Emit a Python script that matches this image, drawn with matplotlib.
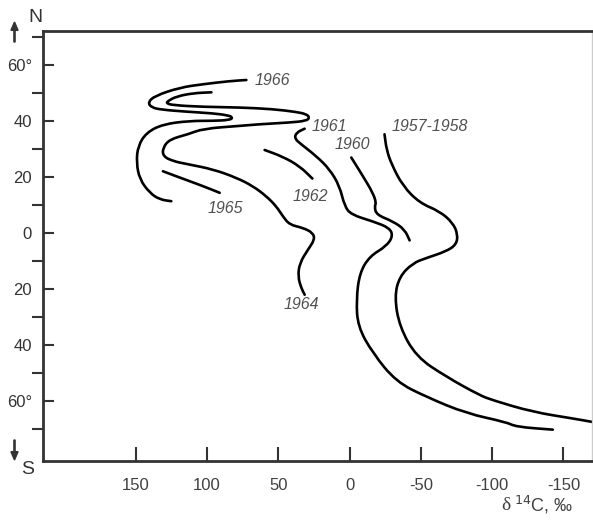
import numpy as np
import matplotlib.pyplot as plt
from matplotlib.patches import FancyArrow, PathPatch
from matplotlib.path import Path

plt.rcParams['font.family'] = ['Liberation Sans', 'DejaVu Sans']
plt.rcParams['axes.unicode_minus'] = False

# Radiocarbon delta (permil) vs latitude (deg, north positive) for each survey year
d1966 = [72.4, 84.1, 102.8, 119.1, 136.7, 141.4, 139.0, 132.0, 115.0, 96.0, 85.3, 81.8,
         84.1, 95.8, 112.1, 130.9, 142.5, 148.4, 149.5, 147.2, 140.2, 133.2, 125.0]
lat1966 = [54.7, 54.3, 53.2, 52.0, 49.0, 46.7, 44.9, 44.1, 43.4, 42.8, 42.1, 41.3,
           40.4, 40.1, 40.1, 38.9, 35.9, 31.1, 25.2, 19.2, 14.4, 12.0, 11.4]

d1964 = [96.9, 109.8, 121.5, 127.4, 128.5, 123.9, 102.8, 77.1, 53.8, 37.4, 30.3, 28.0, 30.3,
         42.1, 63.1, 77.1, 102.8, 113.3, 126.2, 130.9, 130.9, 123.9, 113.3, 95.8, 79.4, 67.8,
         58.4, 51.4, 46.8, 42.1, 32.7, 25.7, 24.5, 29.2, 35.0, 36.2, 33.9, 31.5]
lat1964 = [50.3, 50.0, 48.8, 47.2, 46.4, 45.7, 45.1, 44.9, 44.3, 43.3, 42.5, 41.3, 40.1,
           39.5, 38.9, 38.3, 37.3, 35.3, 33.5, 30.5, 27.5, 25.7, 24.6, 22.8, 19.8, 16.8,
           13.2, 9.6, 6.0, 3.0, 1.9, 0.1, -2.3, -5.9, -10.7, -15.5, -19.6, -22.0]

d1965 = [130.9, 121.5, 102.8, 91.1]
lat1965 = [22.1, 20.3, 16.8, 14.4]

d1962 = [59.6, 46.8, 35.0, 26.1]
lat1962 = [29.7, 27.3, 23.9, 19.5]

d1961 = [31.5, 37.4, 38.6, 33.9, 23.3, 14.0, 7.0, 3.5, -1.2, -16.3, -28.0, -30.4, -25.7,
         -14.0, -7.0, -4.7, -5.8, -16.3, -32.7, -53.8, -81.8, -109.8, -116.8, -142.5]
lat1961 = [37.3, 35.9, 33.8, 31.7, 27.5, 22.8, 16.8, 9.6, 6.6, 4.2, 1.9, -1.1, -4.7,
           -8.3, -14.3, -23.8, -33.4, -42.9, -53.1, -58.5, -64.4, -67.5, -69.2, -70.2]

d1960 = [-1.2, -9.3, -16.3, -18.7, -17.5, -18.7, -30.4, -38.6, -42.1]
lat1960 = [27.0, 20.4, 14.4, 10.8, 9.6, 6.6, 4.2, 1.3, -2.6]

d1957 = [-24.5, -25.9, -29.4, -37.4, -49.1, -63.1, -72.4, -75.9, -74.8, -67.8, -53.8, -44.4,
         -35.0, -31.5, -35.0, -46.8, -67.8, -91.1, -100.4, -128.5, -156.5, -172.0]
lat1957 = [35.3, 29.9, 24.6, 16.8, 10.8, 7.8, 3.7, -0.5, -4.1, -6.5, -8.9, -10.7,
           -15.5, -22.7, -33.4, -44.2, -51.3, -57.9, -59.7, -63.9, -66.2, -67.6]

curves = [(d1966, lat1966), (d1964, lat1964), (d1965, lat1965), (d1962, lat1962),
          (d1961, lat1961), (d1960, lat1960), (d1957, lat1957)]

# year labels: text, delta, latitude
year_labels = [("1966", 54, 54.5), ("1965", 87, 8.8), ("1964", 34, -25.6),
               ("1962", 27.5, 13.2), ("1961", 14, 38.2), ("1960", -2.1, 31.7),
               ("1957-1958", -56, 38.2)]

x_ticks = [150, 100, 50, 0, -50, -100, -150]
y_ticks = [-60, -40, -20, 0, 20, 40, 60]
y_tick_labels = ["60°", "40", "20", "0", "20", "40", "60°"]


def smooth_path(xs, ys):
    # quadratic bezier through segment midpoints, the points act as control points
    p = np.column_stack([xs, ys])
    mids = (p[:-1] + p[1:]) / 2
    verts = [p[0], mids[0]]
    codes = [Path.MOVETO, Path.LINETO]
    for i in range(1, len(p) - 1):
        verts += [p[i], mids[i]]
        codes += [Path.CURVE3, Path.CURVE3]
    verts.append(p[-1])
    codes.append(Path.LINETO)
    return Path(verts, codes)


fig = plt.figure(figsize=(5.93, 5.2), dpi=100)
ax = fig.add_axes([43 / 593, 1 - 461 / 520, 549 / 593, 430 / 520])

for d, lat in curves:
    ax.add_patch(PathPatch(smooth_path(d, lat), fill=False, edgecolor='black', lw=1.9,
                           joinstyle='round', capstyle='round'))

for txt, d, lat in year_labels:
    ax.text(d, lat, txt, fontsize=11.5, style='italic', color='#505050',
            ha='center', va='center')

ax.set_xlim(215, -170)
ax.set_ylim(-81.4, 72.2)

ax.set_xticks(x_ticks)
ax.set_yticks(y_ticks)
ax.set_yticklabels(y_tick_labels)
ax.set_yticks(np.arange(-70, 80, 20), minor=True)
ax.tick_params(axis='both', direction='in', colors='#333333', labelcolor='#404040',
               labelsize=12, width=1.5)
ax.tick_params(axis='x', length=10, pad=12)
ax.tick_params(axis='y', which='both', length=8, width=1.5, pad=8, colors='#333333')

for side in ['left', 'bottom', 'top']:
    ax.spines[side].set_linewidth(2)
    ax.spines[side].set_color('#333333')
ax.spines['right'].set_color('#cccccc')
ax.spines['right'].set_linewidth(1)

# hemisphere markers and axis title
fig.text(35 / 593, 1 - 18 / 520, "N", fontsize=14, color='#333333', ha='center', va='center')
fig.text(28 / 593, 1 - 470 / 520, "S", fontsize=14, color='#333333', ha='center', va='center')
for y0, dy in [(1 - 42 / 520, 20 / 520), (1 - 440 / 520, -20 / 520)]:
    fig.patches.append(FancyArrow(
        14.5 / 593, y0, 0, dy, width=0.002, head_width=0.012, head_length=0.016,
        length_includes_head=True, color='#333333', transform=fig.transFigure, figure=fig))
fig.text(501 / 593, 1 - 505 / 520, "δ", fontsize=14, family='Liberation Serif',
         color='#404040', ha='left', va='center')
fig.text(514 / 593, 1 - 505 / 520, r"$^{14}$C, ‰", fontsize=13,
         color='#404040', ha='left', va='center')

fig.savefig("out.png", dpi=100)
